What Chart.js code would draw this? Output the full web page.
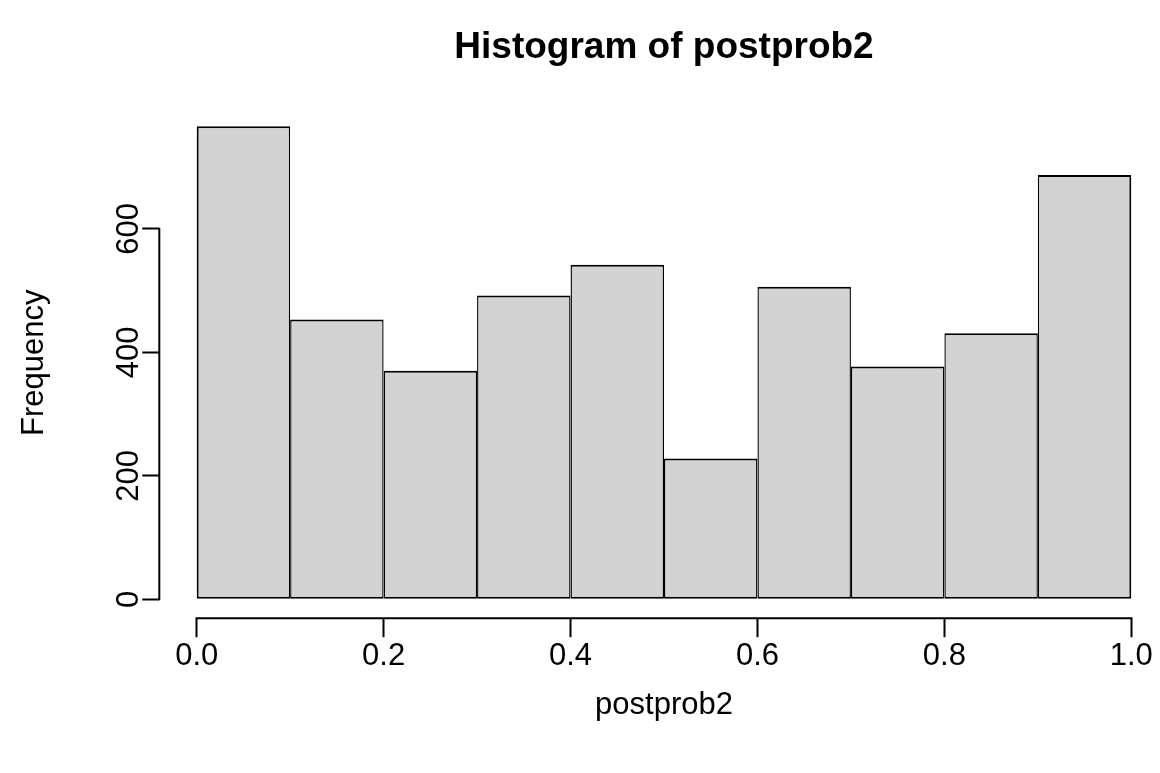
<!DOCTYPE html>
<html lang="en">
<head>
<meta charset="UTF-8">
<title>Histogram of postprob2</title>
<script src="https://cdn.jsdelivr.net/npm/chart.js"></script>
<style>
  body { margin: 0; background: #fff; }
  #wrap { width: 1160px; height: 773px; }
</style>
</head>
<body>
<div id="wrap"><canvas id="hist" width="1160" height="773"></canvas></div>
<script>
// bin edges and counts
const breaks = [0, 0.1, 0.2, 0.3, 0.4, 0.5, 0.6, 0.7, 0.8, 0.9, 1.0];
const counts = [766, 453, 370, 492, 542, 228, 506, 377, 431, 687];
const xTicks = [0, 0.2, 0.4, 0.6, 0.8, 1.0];
const yTicks = [0, 200, 400, 600];
const titleText = 'Histogram of postprob2';
const xLabel = 'postprob2';
const yLabel = 'Frequency';

const FONT = '"Liberation Sans", Arial, Helvetica, sans-serif';
const points = counts.map((c, i) => ({ x: (breaks[i] + breaks[i + 1]) / 2, y: c }));
const last = counts.length - 1;

// R style axes: lines only span first..last tick, rotated y labels, titles
const rAxes = {
  id: 'rAxes',
  afterDraw(chart) {
    const { ctx, chartArea, scales } = chart;
    const xs = scales.x, ys = scales.y;
    ctx.save();
    ctx.strokeStyle = '#000';
    ctx.lineWidth = 2;
    ctx.beginPath();
    ctx.moveTo(xs.getPixelForValue(xTicks[0]) - 1, chartArea.bottom);
    ctx.lineTo(xs.getPixelForValue(xTicks[xTicks.length - 1]) + 1, chartArea.bottom);
    ctx.moveTo(chartArea.left, ys.getPixelForValue(yTicks[0]) + 1);
    ctx.lineTo(chartArea.left, ys.getPixelForValue(yTicks[yTicks.length - 1]) - 1);
    ctx.stroke();

    ctx.fillStyle = '#000';
    ctx.textAlign = 'center';
    ctx.textBaseline = 'alphabetic';
    ctx.font = '31px ' + FONT;
    yTicks.forEach(v => {
      ctx.save();
      ctx.translate(138, ys.getPixelForValue(v));
      ctx.rotate(-Math.PI / 2);
      ctx.fillText(String(v), 0, 0);
      ctx.restore();
    });

    const midX = xs.getPixelForValue((breaks[0] + breaks[last + 1]) / 2);
    ctx.save();
    ctx.translate(43, (chartArea.top + chartArea.bottom) / 2);
    ctx.rotate(-Math.PI / 2);
    ctx.fillText(yLabel, 0, 0);
    ctx.restore();

    ctx.fillText(xLabel, midX, 714);
    ctx.font = 'bold 37px ' + FONT;
    ctx.fillText(titleText, midX, 58);
    ctx.restore();
  }
};

new Chart(document.getElementById('hist'), {
  type: 'bar',
  data: {
    datasets: [{
      data: points,
      backgroundColor: '#d3d3d3',
      borderColor: '#000',
      borderSkipped: false,
      inflateAmount: 0,
      borderWidth: c => ({
        top: 2, bottom: 2,
        left: c.dataIndex === 0 ? 2 : 1.4,
        right: c.dataIndex === last ? 2 : 1.4
      }),
      barPercentage: 1,
      categoryPercentage: 1
    }]
  },
  options: {
    responsive: false,
    animation: false,
    layout: { padding: { top: 107.4, right: 10, left: 0, bottom: 0 } },
    plugins: { legend: { display: false }, tooltip: { enabled: false } },
    scales: {
      x: {
        type: 'linear',
        offset: false,
        min: -0.04,
        max: 1.02,
        afterBuildTicks: s => { s.ticks = xTicks.map(v => ({ value: v })); },
        afterFit: s => { s.height = 773 - 618.2; },
        border: { display: false },
        grid: { offset: false, drawOnChartArea: false, drawTicks: true, tickLength: 19, tickColor: '#000', tickWidth: 2 },
        ticks: {
          autoSkip: false,
          maxRotation: 0,
          padding: 1,
          color: '#000',
          font: { family: FONT, size: 31 },
          callback: v => v.toFixed(1)
        }
      },
      y: {
        min: -30.64,
        max: 796.64,
        afterBuildTicks: s => { s.ticks = yTicks.map(v => ({ value: v })); },
        afterFit: s => { s.width = 159.3; },
        border: { display: false },
        grid: { drawOnChartArea: false, drawTicks: true, tickLength: 17, tickColor: '#000', tickWidth: 2 },
        ticks: { display: false }
      }
    }
  },
  plugins: [rAxes]
});
</script>
</body>
</html>
